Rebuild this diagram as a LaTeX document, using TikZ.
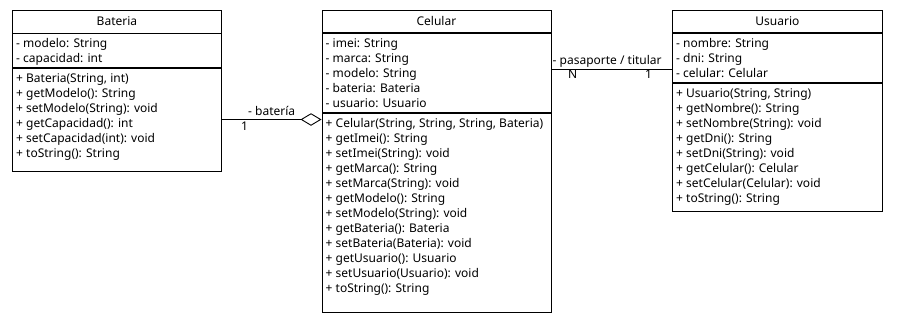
\documentclass[tikz,border=0pt]{standalone}
\usepackage{fontspec}
\setmainfont{Noto Sans}
\usetikzlibrary{arrows.meta}

\tikzset{
  x=1pt, y=-1pt,
  umlfont/.style={font=\fontsize{12pt}{15pt}\selectfont},
  comp/.style={draw, line width=0.9pt, rectangle, inner sep=0pt, anchor=north west, umlfont},
  members/.style={anchor=north west, inner sep=0pt, align=left, umlfont},
  lbl/.style={inner sep=0pt, umlfont},
  link/.style={line width=0.9pt},
  aggr/.style={link, -{Diamond[open, length=21pt, width=12.5pt, line width=0.9pt]}},
}

\begin{document}
\begin{tikzpicture}
\useasboundingbox (0,0) rectangle (908,317);

% ---------- Bateria ----------
\node[comp, minimum width=209pt, minimum height=23pt] (batT) at (12,9.5) {Bateria};
\node[comp, minimum width=209pt, minimum height=33.5pt] (batA) at (batT.south west) {};
\node[comp, minimum width=209pt, minimum height=103pt] (batM) at (batA.south west) {};
\node[members] (batAt) at ([xshift=4pt, yshift=-3.8pt]batA.north west)
  {\strut- modelo: String\\- capacidad: int};
\node[members] (batMt) at ([xshift=4pt, yshift=-3.8pt]batM.north west)
  {\strut+ Bateria(String, int)\\+ getModelo(): String\\+ setModelo(String): void\\
   + getCapacidad(): int\\+ setCapacidad(int): void\\+ toString(): String};

% ---------- Celular ----------
\node[comp, minimum width=229pt, minimum height=22.5pt] (celT) at (321.5,9.5) {Celular};
\node[comp, minimum width=229pt, minimum height=79pt] (celA) at (celT.south west) {};
\node[comp, minimum width=229pt, minimum height=199pt] (celM) at (celA.south west) {};
\node[members] (celAt) at ([xshift=4pt, yshift=-3.8pt]celA.north west)
  {\strut- imei: String\\- marca: String\\- modelo: String\\- bateria: Bateria\\- usuario: Usuario};
\node[members] (celMt) at ([xshift=4pt, yshift=-3.8pt]celM.north west)
  {\strut+ Celular(String, String, String, Bateria)\\+ getImei(): String\\+ setImei(String): void\\
   + getMarca(): String\\+ setMarca(String): void\\+ getModelo(): String\\
   + setModelo(String): void\\+ getBateria(): Bateria\\+ setBateria(Bateria): void\\
   + getUsuario(): Usuario\\+ setUsuario(Usuario): void\\+ toString(): String};

% ---------- Usuario ----------
\node[comp, minimum width=210pt, minimum height=22.5pt] (usrT) at (672,9.5) {Usuario};
\node[comp, minimum width=210pt, minimum height=49pt] (usrA) at (usrT.south west) {};
\node[comp, minimum width=210pt, minimum height=128pt] (usrM) at (usrA.south west) {};
\node[members] (usrAt) at ([xshift=4pt, yshift=-3.8pt]usrA.north west)
  {\strut- nombre: String\\- dni: String\\- celular: Celular};
\node[members] (usrMt) at ([xshift=4pt, yshift=-3.8pt]usrM.north west)
  {\strut+ Usuario(String, String)\\+ getNombre(): String\\+ setNombre(String): void\\
   + getDni(): String\\+ setDni(String): void\\+ getCelular(): Celular\\
   + setCelular(Celular): void\\+ toString(): String};

% ---------- Relations ----------
\coordinate (aggY) at (0,119.5);
\draw[aggr] (batM.east |- aggY) -- (celM.west |- aggY);
\node[lbl, anchor=base west] (aggRole) at (248,115.5) {- batería};
\node[lbl, anchor=base west] (aggMult) at (241,130) {1};

\coordinate (assY) at (0,69.5);
\draw[link] (celA.east |- assY) -- (usrA.west |- assY);
\node[lbl, anchor=base west] (assRole) at (552.5,64) {- pasaporte / titular};
\node[lbl, anchor=base west] (assMultN) at (568,78) {N};
\node[lbl, anchor=base west] (assMult1) at (645,78) {1};
\end{tikzpicture}
\end{document}
